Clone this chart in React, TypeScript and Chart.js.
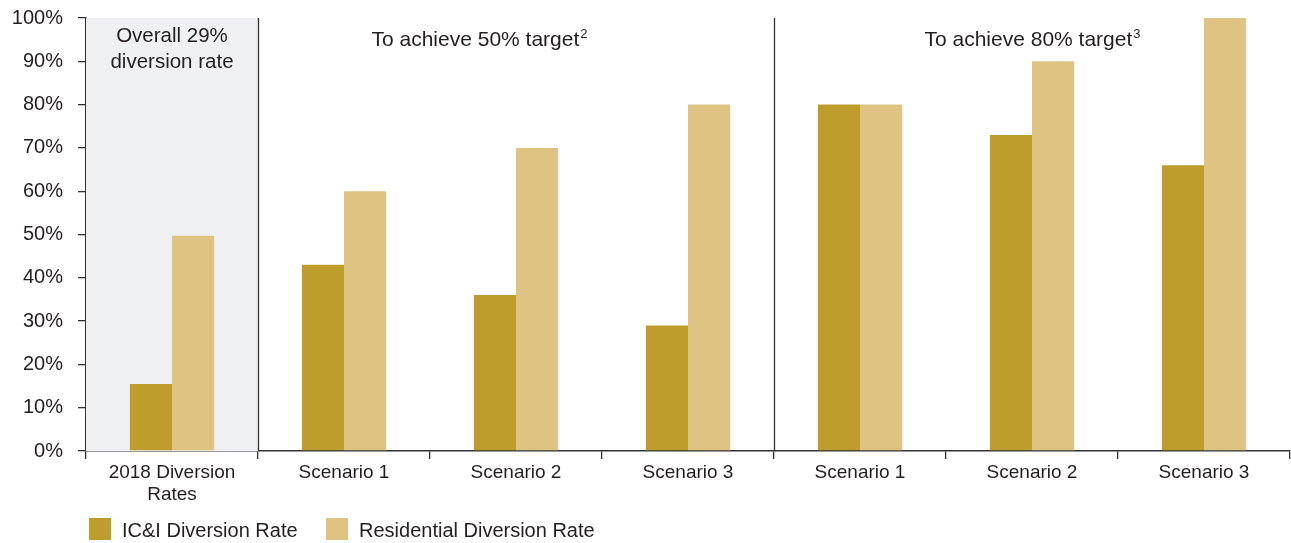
import React, { useEffect, useRef } from "react";
import { Chart, registerables } from "chart.js";

Chart.register(...registerables);

const categories: (string | string[])[] = [
  ["2018 Diversion", "Rates"],
  "Scenario 1",
  "Scenario 2",
  "Scenario 3",
  "Scenario 1",
  "Scenario 2",
  "Scenario 3",
];
const icniValues = [15.5, 43, 36, 29, 80, 73, 66];
const residentialValues = [49.7, 60, 70, 80, 80, 90, 100];
const seriesNames = ["IC&I Diversion Rate", "Residential Diversion Rate"];
const groupTitles = ["Overall 29%|diversion rate", "To achieve 50% target|2", "To achieve 80% target|3"];

const ICNI_COLOR = "#BF9D2C";
const RES_COLOR = "#DFC383";
const TEXT_COLOR = "#231F20";
const AXIS_COLOR = "#333333";
const FONT = "'Liberation Sans', Arial, sans-serif";

const decorPlugin = {
  id: "decor",
  beforeDatasetsDraw(chart: any) {
    const { ctx, chartArea, scales } = chart;
    const x = scales.x;
    const b1 = (x.getPixelForValue(0) + x.getPixelForValue(1)) / 2;
    ctx.save();
    ctx.fillStyle = "#EFF0F2";
    ctx.fillRect(chartArea.left, chartArea.top, b1 - chartArea.left, chartArea.bottom - chartArea.top);
    ctx.restore();
  },
  afterDraw(chart: any) {
    const { ctx, chartArea, scales } = chart;
    const x = scales.x;
    const b1 = (x.getPixelForValue(0) + x.getPixelForValue(1)) / 2;
    const b2 = (x.getPixelForValue(3) + x.getPixelForValue(4)) / 2;
    ctx.save();
    ctx.strokeStyle = AXIS_COLOR;
    ctx.lineWidth = 1.3;
    [b1, b2].forEach((bx) => {
      ctx.beginPath();
      ctx.moveTo(Math.round(bx) + 0.5, chartArea.top);
      ctx.lineTo(Math.round(bx) + 0.5, chartArea.bottom);
      ctx.stroke();
    });

    ctx.fillStyle = TEXT_COLOR;
    ctx.textBaseline = "alphabetic";
    ctx.font = `20.5px ${FONT}`;
    ctx.textAlign = "center";
    const [l1, l2] = groupTitles[0].split("|");
    const c0 = (chartArea.left + b1) / 2;
    ctx.fillText(l1, c0, 42);
    ctx.fillText(l2, c0, 68);

    const drawSup = (txt: string, sup: string, cx: number) => {
      ctx.font = `21px ${FONT}`;
      const w = ctx.measureText(txt).width;
      ctx.font = `13px ${FONT}`;
      const ws = ctx.measureText(sup).width;
      const start = cx - (w + ws) / 2;
      ctx.textAlign = "left";
      ctx.font = `21px ${FONT}`;
      ctx.fillText(txt, start, 46);
      ctx.font = `13px ${FONT}`;
      ctx.fillText(sup, start + w + 1, 38);
    };
    const [t1, s1] = groupTitles[1].split("|");
    const [t2, s2] = groupTitles[2].split("|");
    drawSup(t1, s1, b1 + 221);
    drawSup(t2, s2, (b2 + chartArea.right) / 2);

    // legend
    const ly = 518;
    const items = [
      { name: seriesNames[0], color: ICNI_COLOR, x: chartArea.left + 3 },
      { name: seriesNames[1], color: RES_COLOR, x: chartArea.left + 240 },
    ];
    items.forEach((it) => {
      ctx.fillStyle = it.color;
      ctx.fillRect(it.x, ly, 22, 22);
      ctx.fillStyle = TEXT_COLOR;
      ctx.font = `20px ${FONT}`;
      ctx.textAlign = "left";
      ctx.fillText(it.name, it.x + 33, ly + 19);
    });
    ctx.restore();
  },
};

export default function App() {
  const ref = useRef<HTMLCanvasElement | null>(null);
  useEffect(() => {
    if (!ref.current) return;
    const chart = new Chart(ref.current, {
      type: "bar",
      data: {
        labels: categories,
        datasets: [
          {
            label: seriesNames[0],
            data: icniValues,
            backgroundColor: ICNI_COLOR,
            categoryPercentage: 0.49,
            barPercentage: 1,
          },
          {
            label: seriesNames[1],
            data: residentialValues,
            backgroundColor: RES_COLOR,
            categoryPercentage: 0.49,
            barPercentage: 1,
          },
        ],
      },
      options: {
        animation: false,
        responsive: false,
        maintainAspectRatio: false,
        layout: { padding: { top: 18, right: 1, left: 0, bottom: 0 } },
        plugins: { legend: { display: false }, tooltip: { enabled: false } },
        scales: {
          x: {
            offset: true,
            grid: {
              offset: true,
              drawOnChartArea: false,
              drawTicks: true,
              tickLength: 8,
              color: AXIS_COLOR,
              lineWidth: 1.3,
            },
            border: { color: AXIS_COLOR, width: 1.6 },
            ticks: {
              color: TEXT_COLOR,
              font: { family: FONT, size: 19, lineHeight: 1.2 },
              padding: 2,
              maxRotation: 0,
              autoSkip: false,
            },
            afterFit: (s: any) => {
              s.height = 92;
              s.paddingLeft = 0;
              s.paddingRight = 0;
              s.paddingTop = 0;
              s.paddingBottom = 0;
            },
          },
          y: {
            min: 0,
            max: 100,
            grid: {
              drawOnChartArea: false,
              drawTicks: true,
              tickLength: 8,
              color: AXIS_COLOR,
              lineWidth: 1.3,
            },
            border: { color: AXIS_COLOR, width: 1.6 },
            ticks: {
              stepSize: 10,
              color: TEXT_COLOR,
              font: { family: FONT, size: 20 },
              padding: 15,
              callback: (v: any) => `${v}%`,
            },
            afterFit: (s: any) => {
              s.width = 86;
              s.paddingTop = 0;
              s.paddingBottom = 0;
              s.paddingLeft = 0;
              s.paddingRight = 0;
            },
          },
        },
      },
      plugins: [decorPlugin],
    });
    return () => chart.destroy();
  }, []);
  return (
    <div style={{ position: "fixed", left: 0, top: 0, width: 1291, height: 543, background: "#fff" }}>
      <canvas ref={ref} width={1291} height={543} style={{ width: 1291, height: 543 }} />
    </div>
  );
}
